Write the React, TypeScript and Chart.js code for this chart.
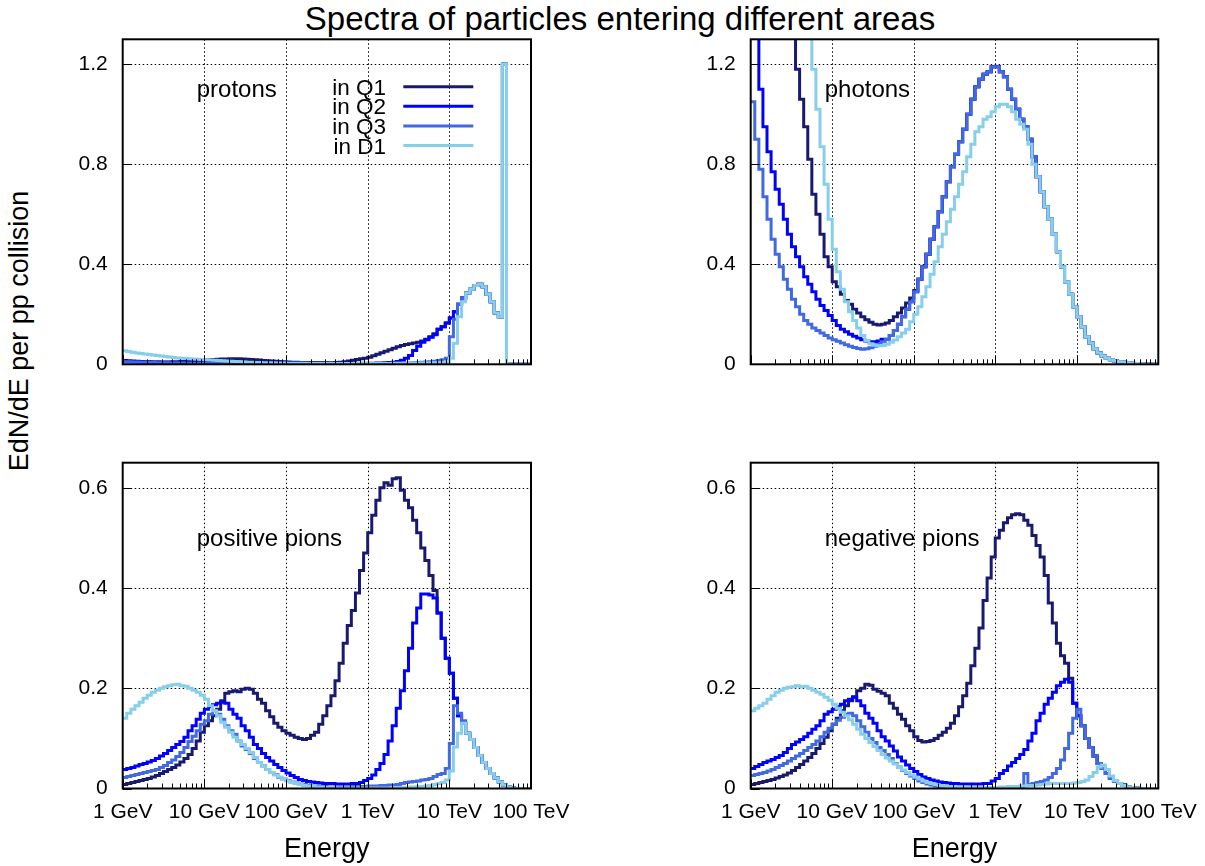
import React, { useEffect, useRef } from "react";
import { Chart, registerables } from "chart.js";

Chart.register(...registerables);

const FONT = '"Liberation Sans", Arial, Helvetica, sans-serif';

// Histogram bins: 20 per decade from 1 GeV to 100 TeV (energies in GeV)
const BIN_EDGES_GEV = Array.from({ length: 101 }, (_, i) => Math.pow(10, i / 20));

const X_TICKS = [1, 10, 100, 1000, 10000, 100000];
const X_TICK_LABELS = ["1 GeV", "10 GeV", "100 GeV", "1 TeV", "10 TeV", "100 TeV"];
const X_MINOR_TICKS = [1, 10, 100, 1000, 10000].flatMap((d) => [2, 3, 4, 5, 6, 7, 8, 9].map((k) => k * d));
const Y_TICKS_TOP = [0, 0.4, 0.8, 1.2];
const Y_TICK_LABELS_TOP = ["0", "0.4", "0.8", "1.2"];
const Y_TICKS_BOTTOM = [0, 0.2, 0.4, 0.6];
const Y_TICK_LABELS_BOTTOM = ["0", "0.2", "0.4", "0.6"];

const SERIES_LABELS = ["in Q1", "in Q2", "in Q3", "in D1"];
const SERIES_COLORS = ["#191970", "#0000ff", "#4169e1", "#87ceeb"];

// ---------- protons ----------
const PROTONS_Q1 = [
  0.010, 0.010, 0.010, 0.010, 0.010, 0.009, 0.009, 0.009, 0.009, 0.009,
  0.009, 0.009, 0.010, 0.010, 0.011, 0.012, 0.013, 0.014, 0.015, 0.016,
  0.017, 0.018, 0.019, 0.020, 0.021, 0.021, 0.022, 0.022, 0.022, 0.021,
  0.020, 0.019, 0.018, 0.017, 0.015, 0.014, 0.013, 0.012, 0.011, 0.010,
  0.009, 0.008, 0.008, 0.007, 0.007, 0.006, 0.006, 0.006, 0.006, 0.006,
  0.006, 0.006, 0.007, 0.008, 0.010, 0.013, 0.016, 0.019, 0.022, 0.024,
  0.028, 0.034, 0.040, 0.046, 0.052, 0.058, 0.064, 0.070, 0.075, 0.079,
  0.082, 0.085, 0.088, 0.093, 0.100, 0.110, 0.122, 0.140, 0.150, 0.165,
  0.185, 0.210, 0.240, 0.265, 0.285, 0.300, 0.315, 0.320, 0.310, 0.280,
  0.250, 0.205, 0.190, 1.200, 0, 0, 0, 0, 0, 0,
];
const PROTONS_Q2 = [
  0.015, 0.014, 0.013, 0.012, 0.011, 0.010, 0.010, 0.009, 0.009, 0.008,
  0.008, 0.008, 0.007, 0.007, 0.007, 0.007, 0.007, 0.007, 0.007, 0.007,
  0.007, 0.008, 0.008, 0.008, 0.008, 0.008, 0.008, 0.008, 0.008, 0.008,
  0.008, 0.008, 0.008, 0.008, 0.008, 0.008, 0.007, 0.007, 0.007, 0.007,
  0.006, 0.006, 0.006, 0.005, 0.005, 0.005, 0.005, 0.005, 0.005, 0.005,
  0.004, 0.004, 0.004, 0.004, 0.004, 0.004, 0.004, 0.004, 0.004, 0.004,
  0.004, 0.004, 0.005, 0.005, 0.006, 0.007, 0.008, 0.011, 0.016, 0.024,
  0.035, 0.055, 0.072, 0.088, 0.098, 0.108, 0.118, 0.140, 0.150, 0.165,
  0.185, 0.210, 0.240, 0.265, 0.285, 0.300, 0.315, 0.320, 0.310, 0.280,
  0.250, 0.205, 0.190, 1.200, 0, 0, 0, 0, 0, 0,
];
const PROTONS_Q3 = [
  0.010, 0.010, 0.009, 0.009, 0.008, 0.008, 0.007, 0.007, 0.006, 0.006,
  0.006, 0.005, 0.005, 0.005, 0.005, 0.004, 0.004, 0.004, 0.004, 0.004,
  0.004, 0.004, 0.004, 0.004, 0.004, 0.004, 0.004, 0.004, 0.003, 0.003,
  0.003, 0.003, 0.003, 0.003, 0.003, 0.003, 0.003, 0.003, 0.003, 0.003,
  0.003, 0.003, 0.002, 0.002, 0.002, 0.002, 0.002, 0.002, 0.002, 0.002,
  0.002, 0.002, 0.002, 0.002, 0.002, 0.002, 0.002, 0.002, 0.002, 0.002,
  0.002, 0.002, 0.002, 0.002, 0.003, 0.003, 0.003, 0.004, 0.004, 0.005,
  0.005, 0.006, 0.007, 0.008, 0.009, 0.010, 0.012, 0.015, 0.018, 0.024,
  0.110, 0.180, 0.240, 0.265, 0.285, 0.300, 0.315, 0.320, 0.310, 0.280,
  0.250, 0.205, 0.190, 1.200, 0, 0, 0, 0, 0, 0,
];
const PROTONS_D1 = [
  0.054, 0.051, 0.048, 0.045, 0.043, 0.041, 0.039, 0.037, 0.035, 0.033,
  0.031, 0.029, 0.027, 0.025, 0.024, 0.023, 0.022, 0.021, 0.020, 0.019,
  0.018, 0.017, 0.016, 0.015, 0.014, 0.013, 0.012, 0.011, 0.010, 0.009,
  0.008, 0.008, 0.007, 0.007, 0.006, 0.006, 0.006, 0.005, 0.005, 0.005,
  0.004, 0.004, 0.004, 0.004, 0.004, 0.003, 0.003, 0.003, 0.003, 0.003,
  0.003, 0.003, 0.003, 0.003, 0.003, 0.003, 0.003, 0.003, 0.003, 0.003,
  0.003, 0.003, 0.003, 0.003, 0.003, 0.003, 0.004, 0.004, 0.004, 0.004,
  0.004, 0.004, 0.005, 0.005, 0.005, 0.005, 0.006, 0.006, 0.007, 0.010,
  0.024, 0.084, 0.190, 0.250, 0.285, 0.300, 0.315, 0.320, 0.310, 0.280,
  0.250, 0.205, 0.190, 1.200, 0, 0, 0, 0, 0, 0,
];

// ---------- photons ----------
const PHOTONS_Q1 = [
  4.0, 3.6, 3.2, 2.9, 2.6, 2.3, 2.1, 1.9, 1.7, 1.55,
  1.42, 1.18, 1.06, 0.95, 0.82, 0.68, 0.60, 0.52, 0.43, 0.39,
  0.33, 0.31, 0.28, 0.255, 0.24, 0.22, 0.205, 0.19, 0.178, 0.168,
  0.16, 0.157, 0.16, 0.165, 0.175, 0.19, 0.205, 0.225, 0.245, 0.265,
  0.295, 0.34, 0.39, 0.44, 0.50, 0.55, 0.61, 0.67, 0.73, 0.79,
  0.84, 0.89, 0.94, 1.00, 1.06, 1.11, 1.14, 1.16, 1.17, 1.19,
  1.19, 1.17, 1.15, 1.10, 1.06, 1.02, 0.98, 0.95, 0.90, 0.83,
  0.75, 0.69, 0.63, 0.58, 0.52, 0.45, 0.39, 0.33, 0.28, 0.23,
  0.19, 0.15, 0.11, 0.085, 0.062, 0.045, 0.033, 0.024, 0.018, 0.013,
  0.010, 0.008, 0.006, 0.004, 0.003, 0.002, 0.001, 0.001, 0, 0,
];
const PHOTONS_Q2 = [
  1.8, 1.35, 1.10, 0.95, 0.85, 0.77, 0.70, 0.64, 0.58, 0.52,
  0.47, 0.43, 0.39, 0.35, 0.32, 0.29, 0.26, 0.235, 0.215, 0.195,
  0.175, 0.155, 0.14, 0.13, 0.12, 0.112, 0.105, 0.098, 0.093, 0.09,
  0.09, 0.093, 0.10, 0.10, 0.115, 0.135, 0.16, 0.19, 0.22, 0.25,
  0.29, 0.34, 0.39, 0.44, 0.50, 0.55, 0.61, 0.67, 0.73, 0.79,
  0.84, 0.89, 0.94, 1.00, 1.06, 1.11, 1.14, 1.16, 1.17, 1.19,
  1.19, 1.17, 1.15, 1.10, 1.06, 1.02, 0.98, 0.95, 0.90, 0.83,
  0.75, 0.69, 0.63, 0.58, 0.52, 0.45, 0.39, 0.33, 0.28, 0.23,
  0.19, 0.15, 0.11, 0.085, 0.062, 0.045, 0.033, 0.024, 0.018, 0.013,
  0.010, 0.008, 0.006, 0.004, 0.003, 0.002, 0.001, 0.001, 0, 0,
];
const PHOTONS_Q3 = [
  1.05, 0.90, 0.78, 0.67, 0.58, 0.50, 0.44, 0.39, 0.34, 0.30,
  0.26, 0.23, 0.20, 0.175, 0.16, 0.145, 0.135, 0.125, 0.115, 0.105,
  0.098, 0.092, 0.085, 0.078, 0.072, 0.067, 0.063, 0.060, 0.062, 0.066,
  0.072, 0.080, 0.090, 0.10, 0.115, 0.135, 0.16, 0.19, 0.22, 0.25,
  0.29, 0.34, 0.39, 0.44, 0.50, 0.55, 0.61, 0.67, 0.73, 0.79,
  0.84, 0.89, 0.94, 1.00, 1.06, 1.11, 1.14, 1.16, 1.17, 1.19,
  1.19, 1.17, 1.15, 1.10, 1.06, 1.02, 0.98, 0.95, 0.90, 0.83,
  0.75, 0.69, 0.63, 0.58, 0.52, 0.45, 0.39, 0.33, 0.28, 0.23,
  0.19, 0.15, 0.11, 0.085, 0.062, 0.045, 0.033, 0.024, 0.018, 0.013,
  0.010, 0.008, 0.006, 0.004, 0.003, 0.002, 0.001, 0.001, 0, 0,
];
const PHOTONS_D1 = [
  6.0, 5.5, 5.0, 4.6, 4.2, 3.8, 3.4, 3.0, 2.7, 2.4,
  2.2, 2.0, 1.8, 1.6, 1.35, 1.18, 1.02, 0.87, 0.72, 0.58,
  0.46, 0.37, 0.30, 0.25, 0.21, 0.175, 0.145, 0.115, 0.095, 0.082,
  0.076, 0.074, 0.075, 0.080, 0.088, 0.097, 0.11, 0.125, 0.14, 0.17,
  0.20, 0.23, 0.27, 0.31, 0.36, 0.41, 0.47, 0.52, 0.57, 0.62,
  0.67, 0.72, 0.77, 0.83, 0.88, 0.93, 0.95, 0.98, 0.99, 1.01,
  1.03, 1.04, 1.04, 1.03, 1.01, 0.98, 0.96, 0.94, 0.88, 0.80,
  0.75, 0.69, 0.63, 0.58, 0.52, 0.45, 0.39, 0.33, 0.28, 0.23,
  0.19, 0.15, 0.11, 0.085, 0.062, 0.045, 0.033, 0.024, 0.018, 0.013,
  0.010, 0.008, 0.006, 0.004, 0.003, 0.002, 0.001, 0.001, 0, 0,
];

// ---------- positive pions ----------
const POSPIONS_Q1 = [
  0.008, 0.010, 0.012, 0.014, 0.016, 0.018, 0.020, 0.023, 0.026, 0.030,
  0.034, 0.038, 0.042, 0.047, 0.053, 0.060, 0.068, 0.080, 0.095, 0.112,
  0.125, 0.135, 0.145, 0.158, 0.175, 0.190, 0.193, 0.195, 0.193, 0.198,
  0.200, 0.198, 0.190, 0.178, 0.170, 0.155, 0.143, 0.130, 0.122, 0.115,
  0.110, 0.106, 0.102, 0.100, 0.098, 0.100, 0.106, 0.112, 0.128, 0.145,
  0.165, 0.185, 0.215, 0.250, 0.290, 0.325, 0.355, 0.390, 0.435, 0.470,
  0.510, 0.545, 0.575, 0.600, 0.610, 0.605, 0.618, 0.620, 0.595, 0.575,
  0.560, 0.535, 0.510, 0.480, 0.455, 0.425, 0.395, 0.350, 0.300, 0.260,
  0.230, 0.180, 0.145, 0.130, 0.110, 0.098, 0.082, 0.066, 0.052, 0.040,
  0.030, 0.021, 0.013, 0.007, 0.003, 0.001, 0, 0, 0, 0,
];
const POSPIONS_Q2 = [
  0.038, 0.040, 0.042, 0.045, 0.048, 0.050, 0.053, 0.056, 0.060, 0.065,
  0.070, 0.076, 0.082, 0.088, 0.094, 0.102, 0.115, 0.125, 0.138, 0.150,
  0.158, 0.163, 0.167, 0.170, 0.172, 0.170, 0.158, 0.148, 0.140, 0.125,
  0.115, 0.102, 0.088, 0.080, 0.070, 0.062, 0.055, 0.048, 0.042, 0.036,
  0.031, 0.026, 0.022, 0.018, 0.016, 0.014, 0.013, 0.012, 0.011, 0.010,
  0.010, 0.010, 0.009, 0.009, 0.009, 0.009, 0.010, 0.010, 0.012, 0.016,
  0.020, 0.027, 0.038, 0.050, 0.068, 0.095, 0.125, 0.160, 0.195, 0.235,
  0.280, 0.330, 0.360, 0.388, 0.388, 0.386, 0.380, 0.350, 0.300, 0.260,
  0.230, 0.180, 0.145, 0.130, 0.110, 0.098, 0.082, 0.066, 0.052, 0.040,
  0.030, 0.021, 0.013, 0.007, 0.003, 0.001, 0, 0, 0, 0,
];
const POSPIONS_Q3 = [
  0.022, 0.024, 0.026, 0.028, 0.030, 0.032, 0.034, 0.036, 0.038, 0.042,
  0.046, 0.052, 0.057, 0.064, 0.072, 0.082, 0.094, 0.104, 0.115, 0.128,
  0.135, 0.148, 0.155, 0.148, 0.138, 0.125, 0.115, 0.108, 0.095, 0.085,
  0.078, 0.070, 0.060, 0.052, 0.045, 0.038, 0.032, 0.028, 0.022, 0.019,
  0.016, 0.013, 0.011, 0.009, 0.008, 0.006, 0.005, 0.005, 0.004, 0.004,
  0.003, 0.003, 0.003, 0.003, 0.003, 0.003, 0.004, 0.004, 0.004, 0.004,
  0.005, 0.005, 0.005, 0.006, 0.006, 0.007, 0.007, 0.008, 0.010, 0.012,
  0.013, 0.014, 0.015, 0.017, 0.018, 0.020, 0.024, 0.028, 0.030, 0.040,
  0.090, 0.165, 0.150, 0.135, 0.110, 0.098, 0.082, 0.066, 0.052, 0.040,
  0.030, 0.021, 0.013, 0.007, 0.003, 0.001, 0, 0, 0, 0,
];
const POSPIONS_D1 = [
  0.140, 0.150, 0.158, 0.165, 0.172, 0.180, 0.186, 0.192, 0.196, 0.200,
  0.203, 0.205, 0.207, 0.208, 0.205, 0.204, 0.200, 0.196, 0.192, 0.186,
  0.178, 0.165, 0.155, 0.145, 0.132, 0.122, 0.112, 0.102, 0.095, 0.088,
  0.080, 0.072, 0.062, 0.052, 0.044, 0.038, 0.032, 0.027, 0.023, 0.019,
  0.015, 0.012, 0.010, 0.008, 0.006, 0.005, 0.004, 0.003, 0.003, 0.002,
  0.002, 0.002, 0.001, 0.001, 0.001, 0.001, 0.001, 0.001, 0.001, 0.001,
  0.001, 0.001, 0.001, 0.001, 0.001, 0.001, 0.002, 0.002, 0.002, 0.002,
  0.003, 0.003, 0.004, 0.004, 0.005, 0.006, 0.008, 0.010, 0.012, 0.017,
  0.035, 0.083, 0.110, 0.130, 0.110, 0.098, 0.082, 0.066, 0.052, 0.040,
  0.030, 0.021, 0.013, 0.007, 0.003, 0.001, 0, 0, 0, 0,
];

// ---------- negative pions ----------
const NEGPIONS_Q1 = [
  0.008, 0.010, 0.012, 0.014, 0.016, 0.018, 0.021, 0.024, 0.027, 0.031,
  0.036, 0.042, 0.048, 0.055, 0.062, 0.070, 0.080, 0.090, 0.102, 0.115,
  0.128, 0.140, 0.155, 0.165, 0.175, 0.183, 0.195, 0.200, 0.208, 0.206,
  0.198, 0.194, 0.190, 0.185, 0.170, 0.160, 0.148, 0.138, 0.125, 0.115,
  0.103, 0.096, 0.093, 0.094, 0.096, 0.100, 0.106, 0.112, 0.120, 0.130,
  0.145, 0.163, 0.185, 0.210, 0.245, 0.280, 0.320, 0.375, 0.420, 0.462,
  0.500, 0.515, 0.530, 0.540, 0.546, 0.548, 0.546, 0.535, 0.525, 0.505,
  0.485, 0.462, 0.425, 0.370, 0.330, 0.290, 0.265, 0.250, 0.220, 0.170,
  0.145, 0.125, 0.100, 0.082, 0.065, 0.050, 0.040, 0.030, 0.020, 0.014,
  0.010, 0.007, 0.004, 0.002, 0.001, 0, 0, 0, 0, 0,
];
const NEGPIONS_Q2 = [
  0.040, 0.044, 0.048, 0.052, 0.055, 0.058, 0.062, 0.066, 0.072, 0.080,
  0.088, 0.093, 0.098, 0.103, 0.110, 0.118, 0.125, 0.135, 0.148, 0.153,
  0.158, 0.163, 0.168, 0.175, 0.178, 0.182, 0.175, 0.165, 0.150, 0.140,
  0.130, 0.115, 0.103, 0.095, 0.085, 0.075, 0.063, 0.055, 0.047, 0.040,
  0.034, 0.028, 0.023, 0.020, 0.017, 0.015, 0.013, 0.012, 0.011, 0.010,
  0.010, 0.009, 0.009, 0.009, 0.009, 0.009, 0.009, 0.010, 0.010, 0.015,
  0.020, 0.030, 0.036, 0.045, 0.052, 0.060, 0.068, 0.078, 0.095, 0.110,
  0.135, 0.150, 0.168, 0.180, 0.192, 0.205, 0.212, 0.218, 0.212, 0.170,
  0.145, 0.125, 0.100, 0.082, 0.065, 0.050, 0.040, 0.030, 0.020, 0.014,
  0.010, 0.007, 0.004, 0.002, 0.001, 0, 0, 0, 0, 0,
];
const NEGPIONS_Q3 = [
  0.026, 0.028, 0.030, 0.032, 0.035, 0.038, 0.042, 0.046, 0.050, 0.055,
  0.060, 0.065, 0.070, 0.076, 0.082, 0.088, 0.095, 0.103, 0.112, 0.120,
  0.128, 0.136, 0.142, 0.148, 0.150, 0.145, 0.135, 0.123, 0.112, 0.100,
  0.092, 0.082, 0.076, 0.068, 0.060, 0.050, 0.043, 0.036, 0.030, 0.025,
  0.020, 0.015, 0.012, 0.009, 0.007, 0.005, 0.004, 0.004, 0.003, 0.003,
  0.002, 0.002, 0.002, 0.002, 0.002, 0.002, 0.002, 0.002, 0.002, 0.002,
  0.002, 0.002, 0.002, 0.003, 0.003, 0.003, 0.004, 0.030, 0.008, 0.010,
  0.012, 0.014, 0.017, 0.022, 0.030, 0.040, 0.057, 0.080, 0.110, 0.140,
  0.158, 0.125, 0.100, 0.082, 0.065, 0.050, 0.040, 0.030, 0.020, 0.014,
  0.010, 0.007, 0.004, 0.002, 0.001, 0, 0, 0, 0, 0,
];
const NEGPIONS_D1 = [
  0.155, 0.160, 0.165, 0.170, 0.178, 0.185, 0.192, 0.196, 0.200, 0.202,
  0.203, 0.205, 0.203, 0.204, 0.200, 0.196, 0.192, 0.188, 0.182, 0.176,
  0.168, 0.160, 0.152, 0.145, 0.137, 0.128, 0.118, 0.108, 0.100, 0.092,
  0.084, 0.076, 0.068, 0.061, 0.055, 0.049, 0.043, 0.037, 0.032, 0.027,
  0.023, 0.019, 0.015, 0.012, 0.010, 0.008, 0.006, 0.005, 0.004, 0.004,
  0.003, 0.003, 0.003, 0.002, 0.002, 0.002, 0.002, 0.002, 0.002, 0.002,
  0.002, 0.003, 0.003, 0.003, 0.004, 0.004, 0.005, 0.005, 0.006, 0.006,
  0.007, 0.008, 0.009, 0.010, 0.010, 0.010, 0.010, 0.010, 0.010, 0.011,
  0.012, 0.014, 0.017, 0.024, 0.032, 0.043, 0.047, 0.038, 0.025, 0.016,
  0.010, 0.006, 0.003, 0.002, 0.001, 0, 0, 0, 0, 0,
];

// ---------- layout ----------
const Y_AXIS_W = 60;

type Panel = {
  key: string;
  name: string;
  series: number[][];
  yMax: number;
  yTicks: number[];
  yLabels: string[];
  showX: boolean;
  legend: boolean;
  canvas: { left: number; top: number; width: number; height: number };
  area: { left: number; top: number; right: number; bottom: number };
  xh: number;
  nameBaseline: number;
};

const TOP_ROW = { canvasTop: 8, canvasH: 374, top: 39.3, bottom: 364.3, xh: 4, nameBaseline: 57.7 };
const BOT_ROW = { canvasTop: 432, canvasH: 434, top: 462.7, bottom: 788.5, xh: 77.5, nameBaseline: 83.3 };
const LEFT_COL = { canvasLeft: 40, canvasW: 545, left: 122.7, right: 531 };
const RIGHT_COL = { canvasLeft: 668, canvasW: 537, left: 750.7, right: 1158.3 };

function mkPanel(key, name, series, row, col, yMax, yTicks, yLabels, showX, legend): Panel {
  return {
    key, name, series, yMax, yTicks, yLabels, showX, legend,
    canvas: { left: col.canvasLeft, top: row.canvasTop, width: col.canvasW, height: row.canvasH },
    area: { left: col.left, top: row.top, right: col.right, bottom: row.bottom },
    xh: row.xh,
    nameBaseline: row.nameBaseline,
  };
}

const PANELS: Panel[] = [
  mkPanel("p", "protons", [PROTONS_Q1, PROTONS_Q2, PROTONS_Q3, PROTONS_D1], TOP_ROW, LEFT_COL, 1.3, Y_TICKS_TOP, Y_TICK_LABELS_TOP, false, true),
  mkPanel("g", "photons", [PHOTONS_Q1, PHOTONS_Q2, PHOTONS_Q3, PHOTONS_D1], TOP_ROW, RIGHT_COL, 1.3, Y_TICKS_TOP, Y_TICK_LABELS_TOP, false, false),
  mkPanel("pp", "positive pions", [POSPIONS_Q1, POSPIONS_Q2, POSPIONS_Q3, POSPIONS_D1], BOT_ROW, LEFT_COL, 0.65, Y_TICKS_BOTTOM, Y_TICK_LABELS_BOTTOM, true, false),
  mkPanel("np", "negative pions", [NEGPIONS_Q1, NEGPIONS_Q2, NEGPIONS_Q3, NEGPIONS_D1], BOT_ROW, RIGHT_COL, 0.65, Y_TICKS_BOTTOM, Y_TICK_LABELS_BOTTOM, true, false),
];

function toPoints(values: number[]) {
  const pts = values.map((y, i) => ({ x: BIN_EDGES_GEV[i], y }));
  pts.push({ x: BIN_EDGES_GEV[values.length], y: values[values.length - 1] });
  return pts;
}

function makeDecor(panel: Panel) {
  return {
    id: "decor_" + panel.key,
    beforeDatasetsDraw(chart: any) {
      const { ctx, chartArea: a } = chart;
      const xs = chart.scales.x;
      const ys = chart.scales.y;
      ctx.save();
      ctx.strokeStyle = "#000";
      ctx.lineWidth = 1;
      ctx.setLineDash([1.5, 2.5]);
      for (const v of X_TICKS) {
        const px = Math.round(xs.getPixelForValue(v)) + 0.5;
        if (px <= a.left + 2 || px >= a.right - 2) continue;
        ctx.beginPath();
        ctx.moveTo(px, a.top);
        ctx.lineTo(px, a.bottom);
        ctx.stroke();
      }
      for (const v of panel.yTicks) {
        const py = Math.round(ys.getPixelForValue(v)) + 0.5;
        if (py >= a.bottom - 2 || py <= a.top + 2) continue;
        ctx.beginPath();
        ctx.moveTo(a.left, py);
        ctx.lineTo(a.right, py);
        ctx.stroke();
      }
      ctx.restore();
    },
    afterDatasetsDraw(chart: any) {
      const { ctx, chartArea: a } = chart;
      const xs = chart.scales.x;
      const ys = chart.scales.y;
      ctx.save();
      ctx.strokeStyle = "#000";
      ctx.lineWidth = 1;
      ctx.setLineDash([]);
      // minor ticks (bottom)
      for (const v of X_MINOR_TICKS) {
        const px = Math.round(xs.getPixelForValue(v)) + 0.5;
        ctx.beginPath();
        ctx.moveTo(px, a.bottom);
        ctx.lineTo(px, a.bottom - 5);
        ctx.stroke();
      }
      // major ticks
      for (const v of X_TICKS) {
        const px = Math.round(xs.getPixelForValue(v)) + 0.5;
        ctx.beginPath();
        ctx.moveTo(px, a.bottom);
        ctx.lineTo(px, a.bottom - 9);
        ctx.stroke();
      }
      for (const v of panel.yTicks) {
        const py = Math.round(ys.getPixelForValue(v)) + 0.5;
        ctx.beginPath();
        ctx.moveTo(a.left, py);
        ctx.lineTo(a.left + 9, py);
        ctx.stroke();
      }
      // frame
      ctx.lineWidth = 2;
      ctx.strokeRect(a.left, a.top, a.right - a.left, a.bottom - a.top);
      // panel name
      ctx.fillStyle = "#000";
      ctx.font = `24px ${FONT}`;
      ctx.textAlign = "left";
      ctx.textBaseline = "alphabetic";
      ctx.fillText(panel.name, a.left + 74, a.top + panel.nameBaseline);
      // legend
      if (panel.legend) {
        ctx.font = `22.5px ${FONT}`;
        ctx.textAlign = "right";
        chart.data.datasets.forEach((ds: any, k: number) => {
          const ry = a.top + 47.4 + k * 19.6;
          ctx.fillStyle = "#000";
          ctx.fillText(ds.label, a.left + 263.3, ry + 8);
          ctx.strokeStyle = ds.borderColor;
          ctx.lineWidth = 3;
          ctx.beginPath();
          ctx.moveTo(a.left + 280.6, ry);
          ctx.lineTo(a.left + 350.6, ry);
          ctx.stroke();
        });
      }
      ctx.restore();
    },
  };
}

function buildConfig(panel: Panel): any {
  const c = panel.canvas;
  const a = panel.area;
  const padding = {
    left: a.left - c.left - Y_AXIS_W,
    top: a.top - c.top,
    right: c.left + c.width - a.right,
    bottom: c.top + c.height - a.bottom - panel.xh,
  };
  return {
    type: "line",
    data: {
      datasets: panel.series.map((vals, k) => ({
        label: SERIES_LABELS[k],
        data: toPoints(vals),
        borderColor: SERIES_COLORS[k],
        backgroundColor: SERIES_COLORS[k],
        borderWidth: 3,
        pointRadius: 0,
        pointHoverRadius: 0,
        stepped: "before",
        fill: false,
        order: 4 - k,
      })),
    },
    options: {
      animation: false,
      responsive: false,
      maintainAspectRatio: false,
      events: [],
      layout: { padding },
      plugins: {
        legend: { display: false },
        tooltip: { enabled: false },
        title: { display: false },
      },
      scales: {
        x: {
          type: "logarithmic",
          min: 1,
          max: 100000,
          grid: { display: false, drawTicks: false },
          border: { display: false },
          afterBuildTicks: (s: any) => {
            s.ticks = X_TICKS.map((v) => ({ value: v }));
          },
          ticks: {
            display: panel.showX,
            autoSkip: false,
            maxRotation: 0,
            minRotation: 0,
            padding: 11,
            color: "#000",
            font: { family: FONT, size: 21 },
            callback: (_v: any, i: number) => X_TICK_LABELS[i],
          },
          title: {
            display: panel.showX,
            text: "Energy",
            color: "#000",
            font: { family: FONT, size: 27 },
            padding: 0,
          },
          afterFit: (s: any) => {
            s.height = panel.xh;
            s.paddingLeft = 0;
            s.paddingRight = 0;
            s.paddingTop = 0;
            s.paddingBottom = 0;
          },
        },
        y: {
          type: "linear",
          min: 0,
          max: panel.yMax,
          grid: { display: false, drawTicks: false },
          border: { display: false },
          afterBuildTicks: (s: any) => {
            s.ticks = panel.yTicks.map((v) => ({ value: v }));
          },
          ticks: {
            padding: 15,
            color: "#000",
            font: { family: FONT, size: 21 },
            callback: (_v: any, i: number) => panel.yLabels[i],
          },
          afterFit: (s: any) => {
            s.width = Y_AXIS_W;
            s.paddingLeft = 0;
            s.paddingRight = 0;
            s.paddingTop = 0;
            s.paddingBottom = 0;
          },
        },
      },
    },
    plugins: [makeDecor(panel)],
  };
}

function PanelChart({ panel }: { panel: Panel }) {
  const ref = useRef<HTMLCanvasElement>(null);
  useEffect(() => {
    if (!ref.current) return;
    const chart = new Chart(ref.current, buildConfig(panel));
    return () => chart.destroy();
  }, [panel]);
  const c = panel.canvas;
  return (
    <canvas
      ref={ref}
      width={c.width}
      height={c.height}
      style={{ position: "absolute", left: c.left, top: c.top, width: c.width, height: c.height }}
    />
  );
}

export default function App() {
  return (
    <div
      style={{
        position: "absolute",
        left: 0,
        top: 0,
        width: 1205,
        height: 866,
        overflow: "hidden",
        background: "#fff",
        fontFamily: FONT,
        color: "#000",
      }}
    >
      <div
        style={{
          position: "absolute",
          left: 620,
          top: 2,
          transform: "translateX(-50%)",
          fontSize: 33,
          lineHeight: 1,
          whiteSpace: "nowrap",
        }}
      >
        Spectra of particles entering different areas
      </div>
      <div
        style={{
          position: "absolute",
          left: 19,
          top: 331,
          transform: "translate(-50%, -50%) rotate(-90deg)",
          fontSize: 27,
          lineHeight: 1,
          whiteSpace: "nowrap",
        }}
      >
        EdN/dE per pp collision
      </div>
      {PANELS.map((p) => (
        <PanelChart key={p.key} panel={p} />
      ))}
    </div>
  );
}
